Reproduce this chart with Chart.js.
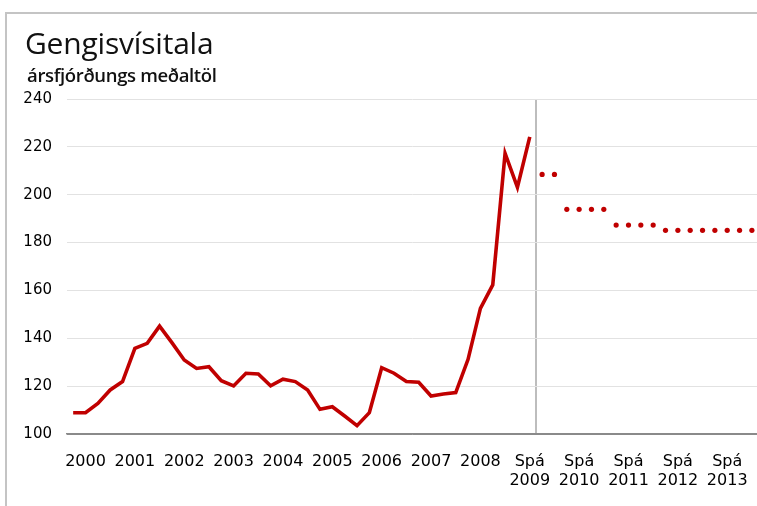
<!DOCTYPE html>
<html>
<head>
<meta charset="utf-8">
<script src="https://cdn.jsdelivr.net/npm/chart.js@4/dist/chart.umd.min.js"></script>
<style>
  html, body { margin: 0; padding: 0; background: #fff; }
  #wrap { position: relative; width: 757px; height: 506px; overflow: hidden; }
  #frame { position: absolute; left: 5px; top: 12px; width: 800px; height: 520px;
           border-left: 2px solid #c4c4c4; border-top: 2px solid #c4c4c4; }
  #title { position: absolute; left: 25px; top: 28px; font: 30px/30px "Open Sans", sans-serif; color: #111; letter-spacing: -0.2px; }
  #subtitle { position: absolute; left: 27px; top: 66px; font: 600 18.5px/18px "Open Sans", sans-serif; color: #111; letter-spacing: -0.35px; }
  canvas { position: absolute; left: 0; top: 0; }
</style>
</head>
<body>
<div id="wrap">
  <div id="frame"></div>
  <canvas id="chart" width="770" height="506"></canvas>
  <div id="title">Gengisvísitala</div>
  <div id="subtitle">ársfjórðungs meðaltöl</div>
</div>
<script>
const years = ["2000", "2001", "2002", "2003", "2004", "2005", "2006",
  "2007", "2008", "2009", "2010", "2011", "2012", "2013"];
const forecastYears = ["2009", "2010", "2011", "2012", "2013"];

// quarterly averages 2000 Q1 - 2009 Q2
const history = [108.9, 108.9, 112.8, 118.4, 121.9, 135.8, 137.9, 145.1,
  138.2, 130.9, 127.4, 128.1, 122.3, 120.1, 125.4, 125.1,
  120.1, 122.9, 121.9, 118.4, 110.3, 111.4, 107.5, 103.5,
  108.9, 127.7, 125.4, 121.9, 121.6, 115.9, 116.7, 117.3,
  131.2, 152.5, 162.3, 217.3, 203.1, 224.2];

// forecast 2009 Q3 - 2013 Q4
const forecast = [208.5, 208.5, 193.9, 193.9, 193.9, 193.9, 187.3, 187.3,
  187.3, 187.3, 185.1, 185.1, 185.1, 185.1, 185.1, 185.1, 185.1, 185.1];

const yTicks = [100, 120, 140, 160, 180, 200, 220, 240];

const red = "#c00000";

// one category per quarter
const quarters = [];
years.forEach((y) => {
  for (let q = 1; q <= 4; q++) quarters.push(y + "-" + q);
});

const historyData = history.concat(new Array(quarters.length - history.length).fill(null));
const forecastData = new Array(quarters.length - forecast.length).fill(null).concat(forecast);

// year label under the second quarter of each year
function yearLabel(index) {
  if (index % 4 !== 1) return "";
  const y = years[Math.floor(index / 4)];
  return forecastYears.includes(y) ? ["Spá", y] : y;
}

new Chart(document.getElementById("chart"), {
  type: "line",
  data: {
    labels: quarters,
    datasets: [
      {
        data: historyData,
        borderColor: red,
        borderWidth: 3.6,
        pointRadius: 0,
        tension: 0,
        spanGaps: false
      },
      {
        data: forecastData,
        showLine: false,
        pointRadius: 2.6,
        pointBackgroundColor: red,
        pointBorderWidth: 0
      }
    ]
  },
  options: {
    responsive: false,
    animation: false,
    devicePixelRatio: 1,
    layout: { padding: { top: 99, right: 11, left: 0, bottom: 0 } },
    plugins: {
      legend: { display: false },
      tooltip: { enabled: false }
    },
    scales: {
      x: {
        offset: true,
        afterFit: (s) => { s.height = 72; },
        grid: {
          offset: true,
          drawTicks: false,
          lineWidth: 2,
          color: (ctx) => (ctx.index === history.length ? "#bdbdbd" : "transparent")
        },
        border: { display: true, color: "#8a8a8a", width: 1.5 },
        ticks: {
          autoSkip: false,
          maxRotation: 0,
          minRotation: 0,
          padding: 18,
          color: "#000",
          font: { family: "DejaVu Sans", size: 16 },
          callback: (val, index) => yearLabel(index)
        }
      },
      y: {
        min: 100,
        max: 240,
        afterFit: (s) => { s.width = 67; },
        afterBuildTicks: (s) => { s.ticks = yTicks.map((v) => ({ value: v })); },
        grid: {
          drawTicks: false,
          lineWidth: 1,
          color: (ctx) => (ctx.tick && ctx.tick.value === 100 ? "#8a8a8a" : "#e2e2e2")
        },
        border: { display: false },
        ticks: {
          padding: 15,
          color: "#000",
          font: { family: "DejaVu Sans", size: 15 }
        }
      }
    }
  }
});
</script>
</body>
</html>
